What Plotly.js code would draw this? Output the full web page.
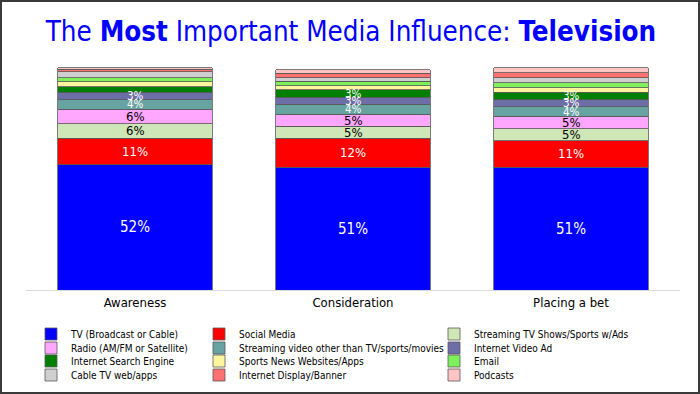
<!DOCTYPE html>
<html><head><meta charset="utf-8">
<script src="https://cdn.plot.ly/plotly-3.0.1.min.js"></script>
<style>
html,body{margin:0;padding:0;background:#fff;}
#wrap{position:relative;width:700px;height:394px;}
#chart{width:700px;height:394px;}
#frame{position:absolute;left:0;top:0;width:700px;height:394px;box-sizing:border-box;border:2px solid #3a3a3a;pointer-events:none;}
</style></head><body>
<div id="wrap"><div id="chart"></div><div id="frame"></div></div>
<script>
// ---- data ----
const categories = ['Awareness', 'Consideration', 'Placing a bet'];
const seriesNames = [
  'TV (Broadcast or Cable)', 'Social Media', 'Streaming TV Shows/Sports w/Ads',
  'Radio (AM/FM or Satellite)', 'Streaming video other than TV/sports/movies', 'Internet Video Ad',
  'Internet Search Engine', 'Sports News Websites/Apps', 'Email',
  'Cable TV web/apps', 'Internet Display/Banner', 'Podcasts'
];
const tv              = [52, 51, 51];
const socialMedia     = [11, 12, 11];
const streamingTvAds  = [6, 5, 5];
const radio           = [6, 5, 5];
const streamingVideo  = [4, 4, 4];
const internetVideoAd = [3, 3, 3];
const searchEngine    = [2.3, 3, 3];
const sportsNews      = [2.1, 1.8, 1.9];
const email           = [1.7, 1.8, 2.1];
const cableTvApps     = [2.4, 1.4, 2.1];
const displayBanner   = [1.1, 1.9, 2.1];
const podcasts        = [0.6, 1.4, 2.1];
const seriesValues = [tv, socialMedia, streamingTvAds, radio, streamingVideo, internetVideoAd,
  searchEngine, sportsNews, email, cableTvApps, displayBanner, podcasts];

// ---- styles ----
const colors = ['#0000FF', '#FF0000', '#CFE6B6', '#FFA6FF', '#66A3A1', '#6D6DA8',
  '#008000', '#FFF59E', '#7FF05C', '#CFCFCF', '#FF7070', '#FFC4C4'];
const labelColors = ['#ffffff', '#ffffff', '#000000', '#000000', '#ffffff', '#ffffff',
  '#ffffff', '#000000', '#000000', '#000000', '#000000', '#000000'];
const FONT = "'DejaVu Sans Condensed', 'Liberation Sans', sans-serif";

// plot area in pixels (used only to place legends)
const PL = 26, PR = 680, PT = 60, PB = 290;
const legendTextX = [71, 239, 474];
const legendRowY = [334, 348, 361, 375];

const traces = seriesValues.map((vals, i) => ({
  type: 'bar',
  name: seriesNames[i],
  x: categories,
  y: vals,
  marker: {color: colors[i], line: {color: '#595959', width: 0.8}},
  textposition: 'none',
  hoverinfo: 'name+y',
  legend: i === 0 ? 'legend' : 'legend' + (i + 1)
}));

// value labels computed from data through data coordinates
const annotations = [];
categories.forEach((c, ci) => {
  let base = 0;
  seriesValues.forEach((vals, si) => {
    const v = vals[ci];
    const r = Math.round(v);
    if (r >= 3) {
      annotations.push({
        x: c, y: base + v / 2, xref: 'x', yref: 'y',
        text: r + '%', showarrow: false,
        font: {family: FONT, size: si === 0 ? 15 : (r >= 5 ? 13 : 11.5), color: labelColors[si]}
      });
    }
    base += v;
  });
});

const layout = {
  width: 700, height: 394,
  margin: {l: PL, r: 700 - PR, t: PT, b: 394 - PB, autoexpand: false},
  paper_bgcolor: '#ffffff', plot_bgcolor: '#ffffff',
  barmode: 'stack', bargap: 0.29,
  showlegend: true,
  font: {family: FONT, color: '#000000'},
  title: {
    text: 'The <b>Most</b> Important Media Influence: <b>Television</b>',
    font: {family: FONT, size: 27.5, color: '#0000FF'},
    x: 351 / 700, xref: 'container', xanchor: 'center',
    y: 1 - 31 / 394, yref: 'container', yanchor: 'middle'
  },
  xaxis: {
    showline: true, linecolor: '#D9D9D9', linewidth: 1,
    showgrid: false, zeroline: false, ticks: '',
    tickfont: {family: FONT, size: 13, color: '#000000'},
    fixedrange: true
  },
  yaxis: {
    range: [0, (PB - PT) / 2.41], visible: false, showgrid: false, zeroline: false, fixedrange: true
  },
  annotations: annotations
};

seriesNames.forEach((n, i) => {
  const col = i % 3, row = Math.floor(i / 3);
  const key = i === 0 ? 'legend' : 'legend' + (i + 1);
  layout[key] = {
    x: (legendTextX[col] - 40 - PL) / (PR - PL),
    y: (PB - legendRowY[row]) / (PB - PT),
    xanchor: 'left', yanchor: 'middle',
    xref: 'paper', yref: 'paper',
    orientation: 'v',
    bgcolor: 'rgba(0,0,0,0)', borderwidth: 0,
    font: {family: FONT, size: 10, color: '#000000'},
    itemclick: false, itemdoubleclick: false
  };
});

Plotly.newPlot('chart', traces, layout, {displayModeBar: false, staticPlot: true});
</script>
</body></html>
